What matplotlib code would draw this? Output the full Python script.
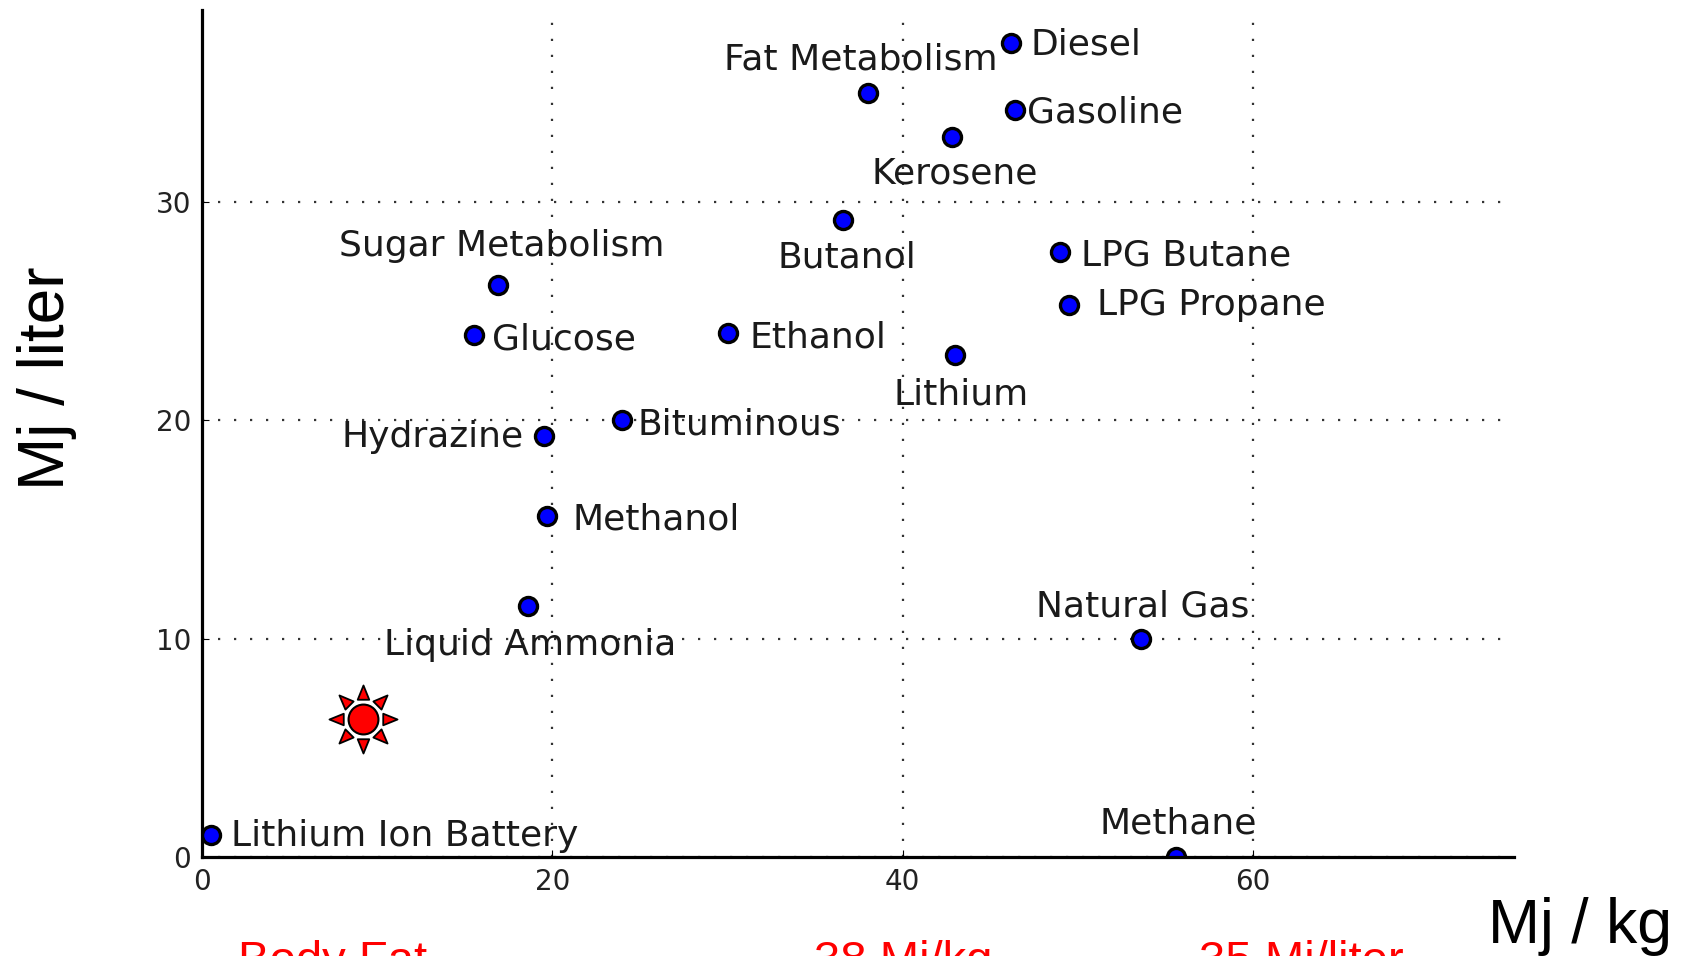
import numpy as np
import matplotlib
matplotlib.use('Agg')
import matplotlib.pyplot as plt
from matplotlib.path import Path

W, H = 1686, 956

# fuels
names = ['Diesel', 'Fat Metabolism', 'Gasoline', 'Kerosene', 'Butanol', 'LPG Butane',
         'LPG Propane', 'Sugar Metabolism', 'Glucose', 'Ethanol', 'Lithium', 'Bituminous',
         'Hydrazine', 'Methanol', 'Liquid Ammonia', 'Natural Gas', 'Lithium Ion Battery',
         'Methane']
mj_kg = [46.2, 38, 46.4, 42.8, 36.6, 49, 49.5, 16.9, 15.5, 30, 43, 24,
         19.5, 19.7, 18.6, 53.6, 0.5, 55.6]
mj_liter = [37.3, 35, 34.2, 33, 29.2, 27.7, 25.3, 26.2, 23.9, 24, 23, 20,
            19.3, 15.6, 11.5, 10, 1, 0]
body_fat_x = [9.2]
body_fat_y = [6.3]

x_ticks = [0, 20, 40, 60]
y_ticks = [0, 10, 20, 30]

# label offsets from the marker, in pixels of the output
label_dx = [19, -144, 12, -80, -66, 21, 28, -159, 18, 22, -62, 15,
            -202, 25, -144, -105, 20, -76]
label_dy = [-2, 33, -2, -37, -38, -3, 0, 39, -4, -4, -40, -4,
            -1, -3, -39, 32, -1, 33]


def sun_path():
    verts, codes = [], []
    for i in range(8):
        a = i * np.pi / 4
        d = np.array([np.cos(a), np.sin(a)])
        n = np.array([-d[1], d[0]])
        hw = 0.17
        pts = [d * 1.0, d * 0.58 + n * hw, d * 0.58 - n * hw, d * 1.0]
        verts += pts
        codes += [Path.MOVETO, Path.LINETO, Path.LINETO, Path.CLOSEPOLY]
    return Path(verts, codes)


fig = plt.figure(figsize=(W / 100, H / 100), dpi=100)
ax = fig.add_axes([202 / W, 1 - 857 / H, (1514 - 202) / W, (857 - 10) / H])
ax.set_xlim(0, 74.9)
ax.set_ylim(0, 38.8)

for s in ['top', 'right']:
    ax.spines[s].set_visible(False)
for s in ['left', 'bottom']:
    ax.spines[s].set_linewidth(2.3)
    ax.spines[s].set_zorder(5)

ax.set_xticks(x_ticks)
ax.set_yticks(y_ticks)
ax.tick_params(direction='in', length=5, width=0.8, labelsize=20, pad=8,
               labelcolor='#222222')
ax.grid(True, color='#333333', linestyle=(0, (1, 6.2)), linewidth=1.6)
ax.set_axisbelow(True)

ax.plot(mj_kg, mj_liter, 'o', color='#0000ff', markeredgecolor='black',
        markersize=13, markeredgewidth=2.4, zorder=3)

for name, x, y, dx, dy in zip(names, mj_kg, mj_liter, label_dx, label_dy):
    ax.annotate(name, (x, y), xytext=(dx, dy), textcoords='offset pixels',
                ha='left', va='center', fontsize=26, color='#1a1a1a',
                fontfamily='DejaVu Sans', zorder=4)

ax.plot(body_fat_x, body_fat_y, marker=sun_path(), color='#ff0000', markeredgecolor='black',
        markersize=49, markeredgewidth=1.3, linestyle='none', zorder=3)
ax.plot(body_fat_x, body_fat_y, 'o', color='#ff0000', markeredgecolor='black',
        markersize=21.5, markeredgewidth=1.5, zorder=3)

fig.text(17 / W, 1 - 378 / H, 'Mj / liter', rotation=90, ha='left', va='center',
         fontsize=46, fontfamily='Liberation Sans', color='black')
fig.text(1488 / W, 1 - 926 / H, 'Mj / kg', ha='left', va='center',
         fontsize=45, fontfamily='Liberation Sans', color='black')

fig.text(238 / W, 18 / H * -1, 'Body Fat', fontsize=34, color='#ff0000',
         fontfamily='Liberation Sans', va='baseline')
fig.text(814 / W, 18 / H * -1, '38 Mj/kg', fontsize=34, color='#ff0000',
         fontfamily='Liberation Sans', va='baseline')
fig.text(1199 / W, 18 / H * -1, '35 Mj/liter', fontsize=34, color='#ff0000',
         fontfamily='Liberation Sans', va='baseline')

fig.savefig('out.png', dpi=100)
